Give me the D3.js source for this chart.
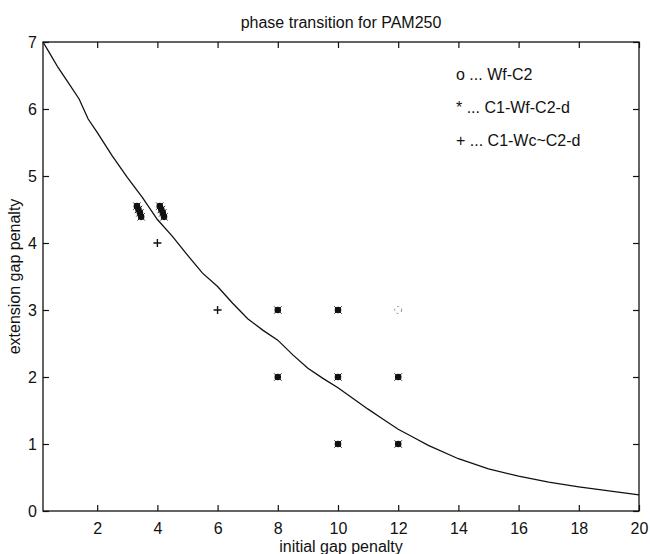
<!DOCTYPE html>
<html>
<head>
  <meta charset="utf-8">
  <title>phase transition for PAM250</title>
  <style>
    body { margin: 0; background: #fff; }
    text { font-family: "Liberation Sans", Arial, sans-serif; fill: #111; }
  </style>
</head>
<body>
<script src="https://cdnjs.cloudflare.com/ajax/libs/d3/7.8.5/d3.min.js"></script>
<script>
var W = 650, H = 554;
var margin = {top: 42, right: 11, bottom: 43, left: 43}; // plot box 43..639 x 42..511

// boundary curve (initial gap, extension gap)
var curveX = [0.2, 0.4, 0.7, 1.0, 1.4, 1.7, 2.0, 2.5, 3.0, 3.5, 4.0, 4.5, 5.0, 5.5, 6.0, 6.5,
              7.0, 7.5, 8.0, 8.5, 9.0, 9.5, 10.0, 10.5, 11.0, 11.5, 12.0, 12.5, 13.0, 14.0,
              15.0, 16.0, 17.0, 18.0, 19.0, 20.0];
var curveY = [7.0, 6.85, 6.62, 6.42, 6.15, 5.85, 5.65, 5.3, 4.98, 4.68, 4.35, 4.1, 3.82, 3.55,
              3.35, 3.1, 2.87, 2.7, 2.55, 2.33, 2.13, 1.98, 1.84, 1.68, 1.52, 1.37, 1.22, 1.1,
              0.98, 0.78, 0.63, 0.52, 0.43, 0.36, 0.3, 0.24];

// o ... Wf-C2
var circX = [12];
var circY = [3];
// * ... C1-Wf-C2-d
var starX = [8, 8, 10, 10, 10, 12, 12, 3.32, 3.37, 3.42, 3.46, 4.08, 4.13, 4.18, 4.22];
var starY = [3, 2, 3, 2, 1, 2, 1, 4.55, 4.5, 4.45, 4.39, 4.55, 4.5, 4.45, 4.39];
// + ... C1-Wc~C2-d
var plusX = [4, 6];
var plusY = [4, 3];

var xTicks = [2, 4, 6, 8, 10, 12, 14, 16, 18, 20];
var yTicks = [0, 1, 2, 3, 4, 5, 6, 7];
var legendLabels = ["o ... Wf-C2", "* ... C1-Wf-C2-d", "+ ... C1-Wc~C2-d"];

var iw = W - margin.left - margin.right, ih = H - margin.top - margin.bottom;

var svg = d3.select("body").append("svg")
  .attr("width", W)
  .attr("height", H);

var g = svg.append("g").attr("transform", "translate(" + margin.left + "," + margin.top + ")");

var x = d3.scaleLinear().domain([0.2, 20]).range([0, iw]);
var y = d3.scaleLinear().domain([0, 7]).range([ih, 0]);

// box
g.append("rect")
  .attr("width", iw).attr("height", ih)
  .attr("fill", "none").attr("stroke", "#111").attr("stroke-width", 1.3);

// axes, ticks pointing inward like matlab
function styleAxis(sel) {
  sel.select(".domain").remove();
  sel.selectAll("line").attr("stroke", "#111").attr("stroke-width", 1.2);
  sel.selectAll("text").style("font-size", "16px").attr("fill", "#111");
}
g.append("g").attr("transform", "translate(0," + ih + ")")
  .call(d3.axisBottom(x).tickValues(xTicks).tickSizeInner(-6).tickPadding(12).tickFormat(d3.format("d")))
  .call(styleAxis);
g.append("g")
  .call(d3.axisTop(x).tickValues(xTicks).tickSizeInner(-6).tickFormat(""))
  .call(styleAxis);
g.append("g")
  .call(d3.axisLeft(y).tickValues(yTicks).tickSizeInner(-6).tickPadding(6).tickFormat(d3.format("d")))
  .call(styleAxis);
g.append("g").attr("transform", "translate(" + iw + ",0)")
  .call(d3.axisRight(y).tickValues(yTicks).tickSizeInner(-6).tickFormat(""))
  .call(styleAxis);

// curve
var pts = curveX.map(function(d, i) { return [d, curveY[i]]; });
g.append("path")
  .datum(pts)
  .attr("fill", "none").attr("stroke", "#111").attr("stroke-width", 1.3)
  .attr("d", d3.line().x(function(d) { return x(d[0]); }).y(function(d) { return y(d[1]); }));

// markers
var starPts = starX.map(function(d, i) { return [d, starY[i]]; });
g.selectAll(".stard")
  .data(starPts)
  .enter().append("circle")
  .attr("cx", function(d) { return x(d[0]); })
  .attr("cy", function(d) { return y(d[1]); })
  .attr("r", 3.3).attr("fill", "#111");
g.selectAll(".starx")
  .data(starPts)
  .enter().append("path")
  .attr("transform", function(d) { return "translate(" + x(d[0]) + "," + y(d[1]) + ")"; })
  .attr("d", d3.symbol().type(d3.symbolTimes).size(36))
  .attr("fill", "none").attr("stroke", "#111").attr("stroke-width", 1);

g.selectAll(".plus")
  .data(plusX.map(function(d, i) { return [d, plusY[i]]; }))
  .enter().append("path")
  .attr("transform", function(d) { return "translate(" + x(d[0]) + "," + y(d[1]) + ")"; })
  .attr("d", "M-4,0H4M0,-4V4")
  .attr("stroke", "#111").attr("stroke-width", 1.4);

g.selectAll(".circ")
  .data(circX.map(function(d, i) { return [d, circY[i]]; }))
  .enter().append("circle")
  .attr("cx", function(d) { return x(d[0]); })
  .attr("cy", function(d) { return y(d[1]); })
  .attr("r", 3.5).attr("fill", "none").attr("stroke", "#888").attr("stroke-width", 1)
  .attr("stroke-dasharray", "2,3");

// legend (text only, like the original)
g.selectAll(".leg")
  .data(legendLabels)
  .enter().append("text")
  .attr("x", 413)
  .attr("y", function(d, i) { return 38 + i * 33; })
  .style("font-size", "16px")
  .text(function(d) { return d; });

// title and labels
svg.append("text")
  .attr("x", margin.left + iw / 2).attr("y", 28)
  .attr("text-anchor", "middle").style("font-size", "16px")
  .text("phase transition for PAM250");
svg.append("text")
  .attr("x", margin.left + iw / 2).attr("y", 552)
  .attr("text-anchor", "middle").style("font-size", "16px")
  .text("initial gap penalty");
svg.append("text")
  .attr("transform", "translate(20," + (margin.top + ih / 2) + ") rotate(-90)")
  .attr("text-anchor", "middle").style("font-size", "16px")
  .text("extension gap penalty");
</script>
</body>
</html>
